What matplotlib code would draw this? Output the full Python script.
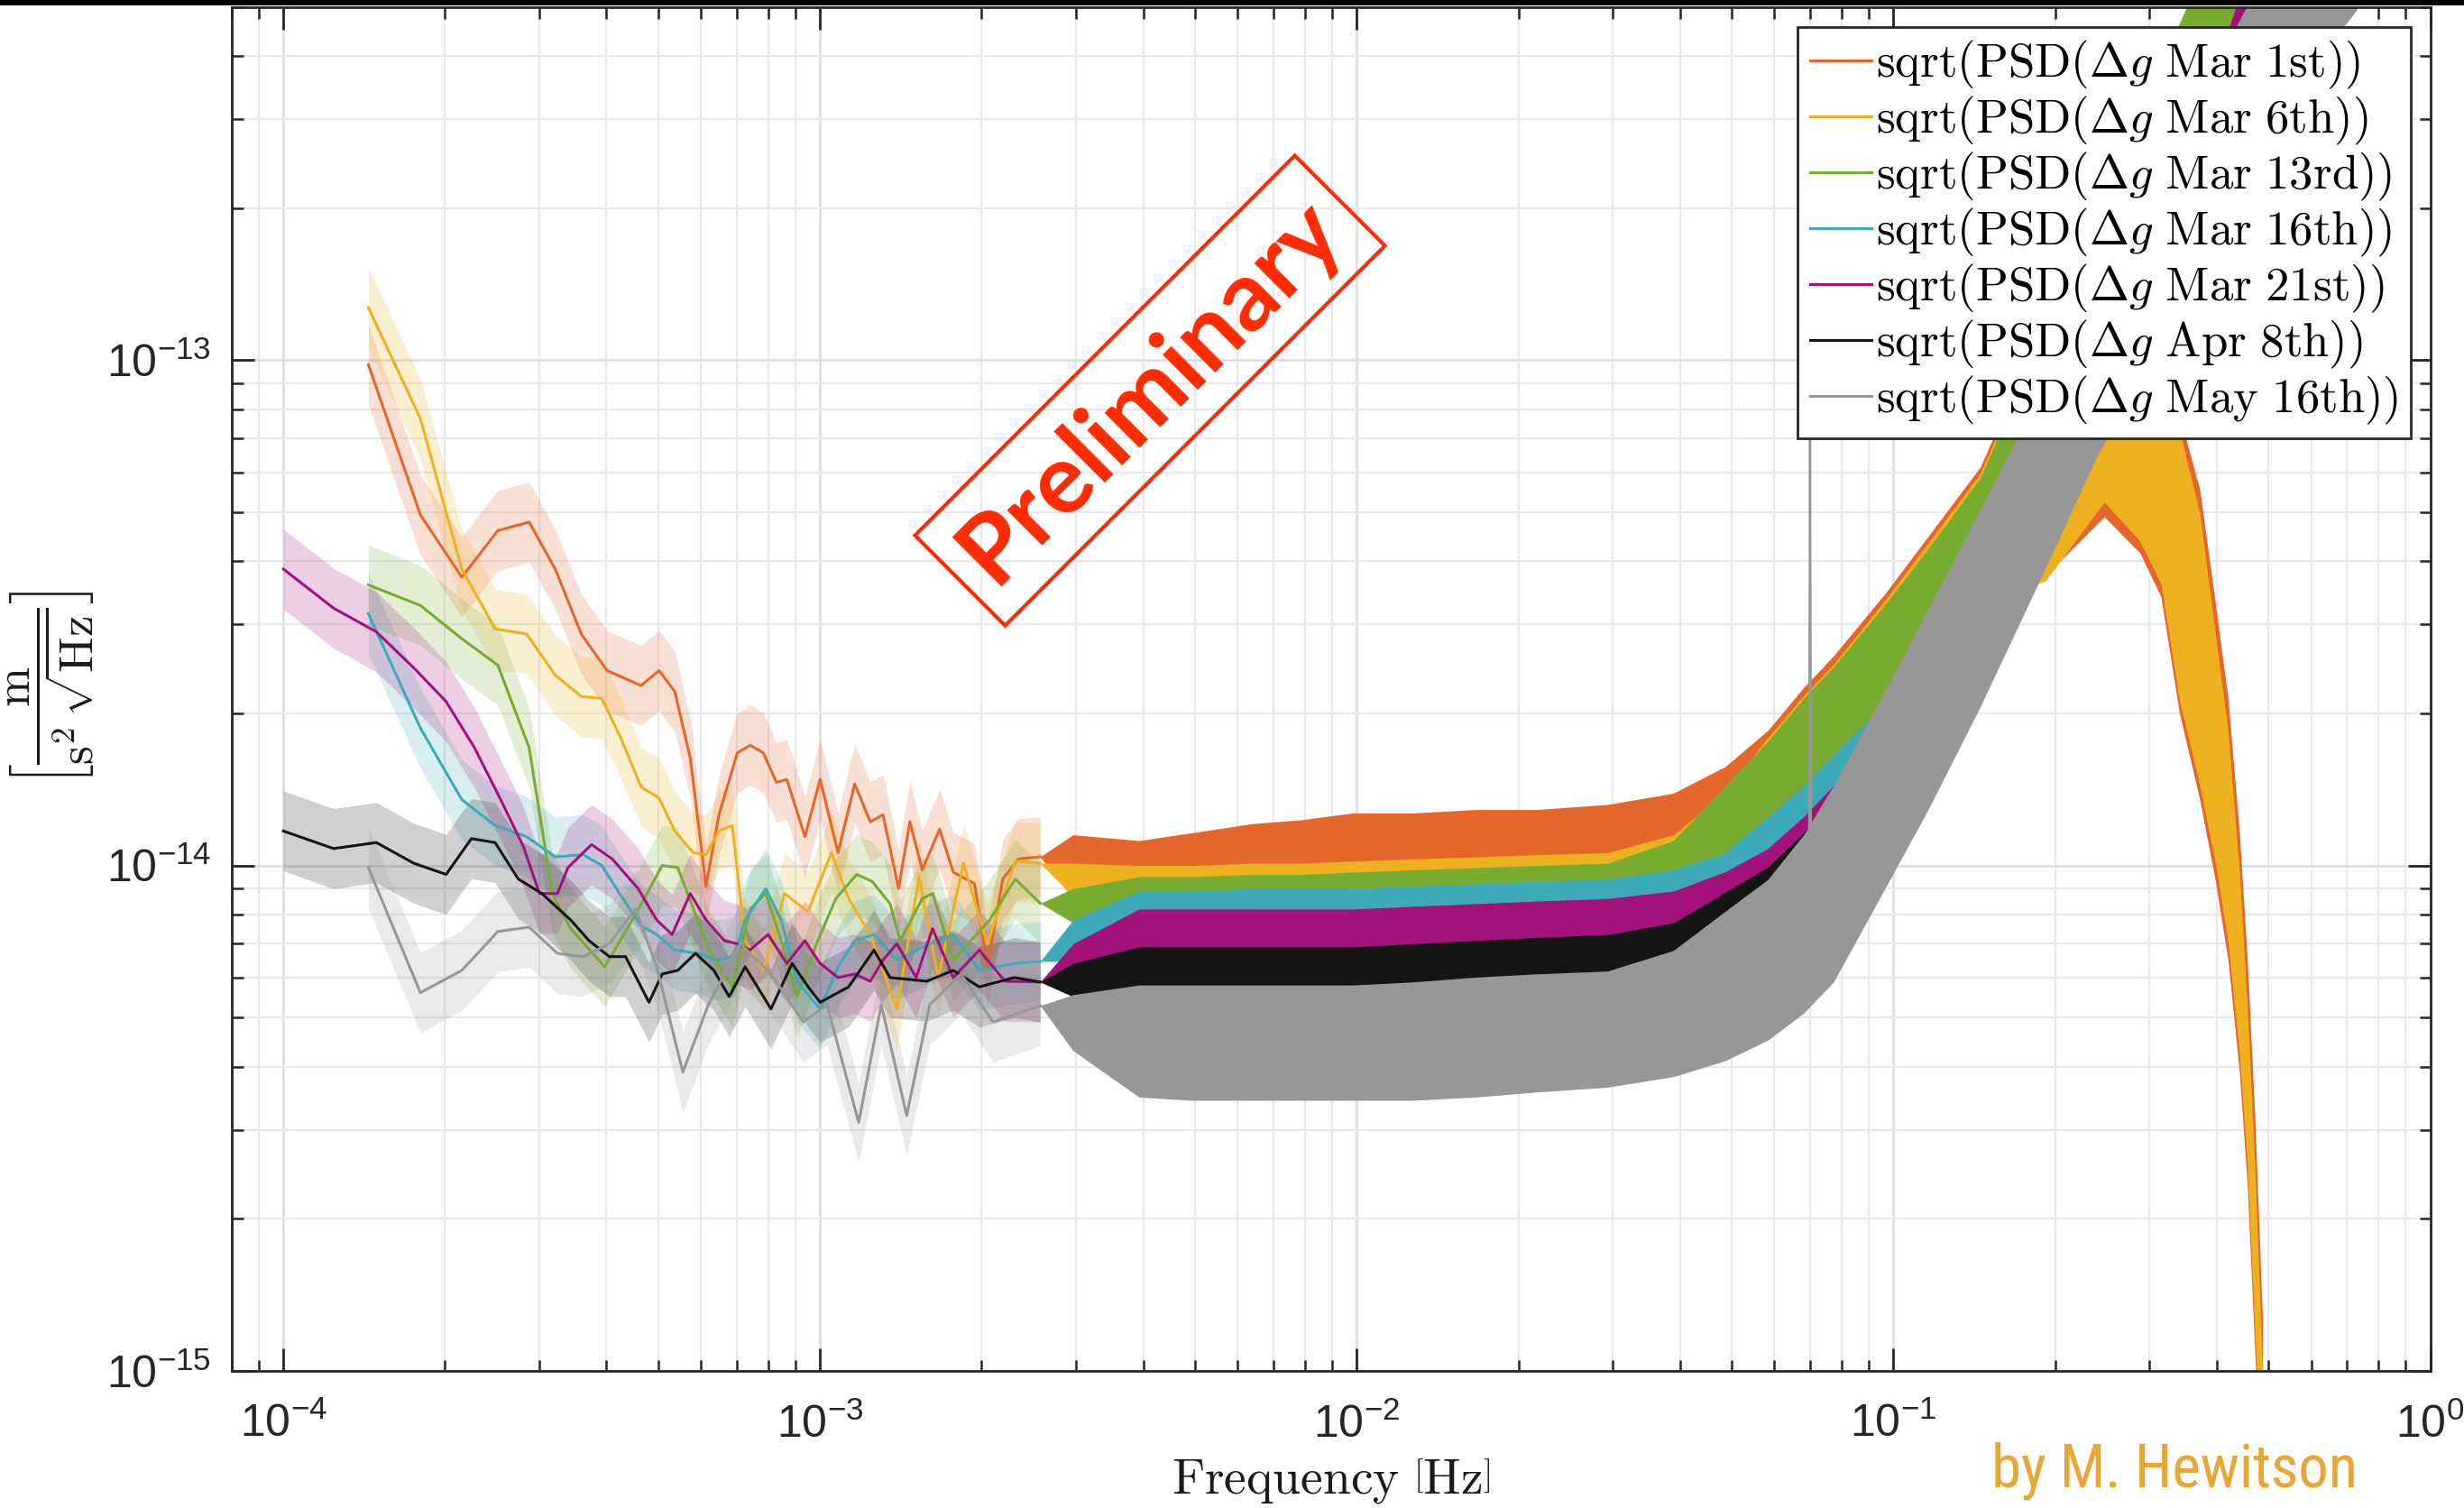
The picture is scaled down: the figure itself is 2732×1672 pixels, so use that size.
import numpy as np
import matplotlib
matplotlib.use("Agg")
import matplotlib.pyplot as plt
from matplotlib.font_manager import FontProperties
from matplotlib.patches import Rectangle
from matplotlib.ticker import LogLocator, NullFormatter

plt.rcParams["font.family"] = ["Liberation Sans", "DejaVu Sans"]
plt.rcParams["mathtext.fontset"] = "custom"
plt.rcParams["mathtext.rm"] = "Liberation Sans"
plt.rcParams["mathtext.it"] = "Liberation Sans:italic"
plt.rcParams["mathtext.bf"] = "Liberation Sans:bold"

# units of 1e-15 m/s^2/sqrt(Hz)
U = 1e-15

labels = ["Mar 1st", "Mar 6th", "Mar 13rd", "Mar 16th", "Mar 21st", "Apr 8th", "May 16th"]
colors = ["#E5662A", "#EDB120", "#77AC30", "#3DAAB8", "#A3127A", "#151515", "#979797"]

# --- low frequency part (averaged, with shaded uncertainty) ---
f_lo_mar01 = [1.44e-4, 1.80e-4, 2.15e-4, 2.51e-4, 2.87e-4, 3.21e-4, 3.59e-4, 4.01e-4, 4.64e-4, 5.01e-4,
              5.36e-4, 5.73e-4, 6.13e-4, 6.48e-4, 7.01e-4, 7.41e-4, 7.84e-4, 8.29e-4, 8.67e-4, 9.37e-4,
              1.00e-3, 1.08e-3, 1.16e-3, 1.24e-3, 1.31e-3, 1.40e-3, 1.47e-3, 1.55e-3, 1.67e-3, 1.77e-3,
              1.94e-3, 2.05e-3, 2.19e-3, 2.34e-3, 2.57e-3]
v_lo_mar01 = [98, 49.4, 37.2, 46.0, 47.8, 38.6, 28.7, 24.3, 22.7, 24.3,
              22.1, 16.3, 9.1, 12.6, 16.7, 17.3, 16.7, 14.6, 14.8, 11.4,
              14.8, 10.6, 14.5, 12.2, 12.6, 9.0, 12.2, 9.8, 11.8, 9.7,
              9.2, 6.3, 9.4, 10.3, 10.4]

f_lo_mar06 = [1.44e-4, 1.80e-4, 2.15e-4, 2.48e-4, 2.84e-4, 3.21e-4, 3.59e-4, 3.92e-4, 4.25e-4, 4.64e-4,
              5.01e-4, 5.36e-4, 5.80e-4, 6.13e-4, 6.48e-4, 6.86e-4, 7.25e-4, 7.84e-4, 8.58e-4, 9.49e-4,
              1.05e-3, 1.13e-3, 1.24e-3, 1.39e-3, 1.53e-3, 1.66e-3, 1.85e-3, 2.05e-3, 2.31e-3, 2.57e-3]
v_lo_mar06 = [127, 76.6, 38.6, 29.4, 28.7, 23.8, 21.6, 21.4, 17.9, 14.3,
              13.6, 11.7, 10.6, 10.5, 11.7, 12.0, 7.1, 6.2, 8.8, 8.1,
              10.6, 8.6, 7.3, 5.2, 9.5, 6.0, 10.1, 7.0, 10.2, 10.1]

f_lo_mar13 = [1.44e-4, 1.80e-4, 2.15e-4, 2.51e-4, 2.87e-4, 3.17e-4, 3.43e-4, 3.97e-4, 4.53e-4, 5.08e-4,
              5.43e-4, 6.21e-4, 6.86e-4, 7.41e-4, 7.92e-4, 8.46e-4, 9.06e-4, 9.90e-4, 1.07e-3, 1.17e-3,
              1.25e-3, 1.35e-3, 1.41e-3, 1.55e-3, 1.62e-3, 1.77e-3, 2.07e-3, 2.31e-3, 2.57e-3]
v_lo_mar13 = [35.9, 32.7, 28.1, 24.9, 17.1, 8.8, 7.5, 6.3, 8.0, 10.0,
              9.9, 6.8, 5.75, 8.2, 8.8, 7.1, 5.5, 7.1, 8.6, 9.6,
              9.3, 8.4, 7.1, 8.6, 8.8, 6.5, 7.8, 9.4, 8.42]

f_lo_mar16 = [1.44e-4, 1.80e-4, 2.15e-4, 2.48e-4, 2.84e-4, 3.21e-4, 3.62e-4, 3.92e-4, 4.29e-4, 4.64e-4,
              4.96e-4, 5.36e-4, 5.93e-4, 6.41e-4, 6.92e-4, 7.25e-4, 7.92e-4, 8.46e-4, 9.06e-4, 1.00e-3,
              1.08e-3, 1.16e-3, 1.26e-3, 1.39e-3, 1.58e-3, 1.77e-3, 1.98e-3, 2.31e-3, 2.57e-3]
v_lo_mar16 = [31.5, 18.7, 13.5, 12.0, 11.4, 10.4, 10.5, 10.0, 8.6, 7.6,
              7.3, 6.8, 6.7, 6.5, 6.6, 7.8, 9.0, 7.8, 5.9, 5.2,
              6.3, 7.1, 7.3, 6.5, 6.95, 7.3, 6.2, 6.4, 6.46]

f_lo_mar21 = [1.00e-4, 1.24e-4, 1.49e-4, 1.75e-4, 2.01e-4, 2.27e-4, 2.54e-4, 2.80e-4, 3.00e-4, 3.24e-4,
              3.39e-4, 3.75e-4, 4.10e-4, 4.58e-4, 4.96e-4, 5.30e-4, 5.73e-4, 6.13e-4, 6.63e-4, 7.00e-4,
              7.40e-4, 8.00e-4, 8.67e-4, 9.37e-4, 1.00e-3, 1.08e-3, 1.16e-3, 1.24e-3, 1.31e-3, 1.39e-3,
              1.51e-3, 1.62e-3, 1.77e-3, 1.98e-3, 2.21e-3, 2.57e-3]
v_lo_mar21 = [38.6, 32.3, 29.0, 24.6, 21.1, 17.1, 13.5, 10.9, 8.8, 8.8,
              9.9, 11.0, 10.3, 9.0, 7.8, 7.3, 8.8, 7.8, 7.1, 7.0,
              6.8, 7.3, 6.4, 7.1, 6.4, 6.0, 6.1, 5.9, 6.5, 7.0,
              6.0, 7.5, 6.0, 6.8, 5.9, 5.88]

f_lo_apr08 = [1.00e-4, 1.24e-4, 1.49e-4, 1.75e-4, 2.01e-4, 2.24e-4, 2.48e-4, 2.74e-4, 3.03e-4, 3.43e-4,
              3.71e-4, 4.05e-4, 4.34e-4, 4.80e-4, 5.08e-4, 5.43e-4, 5.86e-4, 6.34e-4, 6.77e-4, 7.25e-4,
              8.10e-4, 8.87e-4, 9.50e-4, 1.00e-3, 1.13e-3, 1.26e-3, 1.35e-3, 1.58e-3, 1.77e-3, 1.98e-3,
              2.30e-3, 2.57e-3]
v_lo_apr08 = [11.7, 10.8, 11.1, 10.1, 9.6, 11.3, 11.1, 9.4, 8.8, 7.8,
              7.1, 6.6, 6.6, 5.36, 6.1, 6.2, 6.7, 6.2, 5.5, 6.3,
              5.2, 6.4, 5.75, 5.36, 5.75, 6.8, 6.0, 5.9, 6.2, 5.75,
              6.0, 5.88]

f_lo_may16 = [1.44e-4, 1.80e-4, 2.15e-4, 2.51e-4, 2.87e-4, 3.24e-4, 3.62e-4, 4.05e-4, 4.53e-4, 4.96e-4,
              5.55e-4, 6.19e-4, 7.10e-4, 8.10e-4, 9.30e-4, 1.03e-3, 1.18e-3, 1.30e-3, 1.45e-3, 1.60e-3,
              1.83e-3, 2.10e-3, 2.57e-3]
v_lo_may16 = [9.9, 5.6, 6.2, 7.4, 7.55, 6.7, 6.6, 7.0, 8.2, 6.3,
              3.9, 5.3, 7.0, 6.1, 4.9, 5.3, 3.1, 5.3, 3.2, 5.3,
              6.1, 4.9, 5.28]

# --- high frequency part: extent (lower / upper) of the dense spectra ---
f_noise = [2.57e-3, 2.96e-3, 3.93e-3, 4.91e-3, 6.38e-3, 7.81e-3, 9.83e-3, 1.27e-2, 1.66e-2, 2.15e-2,
           2.93e-2, 3.89e-2, 4.86e-2, 5.83e-2, 6.80e-2, 7.73e-2, 9.66e-2, 0.116, 0.145, 0.192,
           0.240, 0.288, 0.336, 0.385, 0.435, 0.481, 0.577, 0.721, 0.859]
f_noise_lp = [2.57e-3, 2.96e-3, 3.93e-3, 4.91e-3, 6.38e-3, 7.81e-3, 9.83e-3, 1.27e-2, 1.66e-2, 2.15e-2,
              2.93e-2, 3.89e-2, 4.86e-2, 5.83e-2, 6.80e-2, 7.73e-2, 9.66e-2, 0.116, 0.145, 0.192,
              0.247, 0.288, 0.315, 0.341, 0.372, 0.398, 0.420, 0.441, 0.456, 0.471, 0.487]

hi_mar01 = [10.4, 11.5, 11.2, 11.6, 12.1, 12.3, 12.7, 12.7, 12.9, 12.9, 13.2, 13.9, 15.7, 18.5, 22.5, 26.0,
            34.6, 44.8, 61.4, 120, 178, 165, 124, 77.8, 55.5, 32.9, 21.4, 11.6, 6.55, 3.20, 1.26]
lo_mar01 = [10.4, 8.6, 7.29, 7.29, 7.29, 7.29, 7.45, 7.56, 7.56, 7.67, 7.83, 8.12, 8.72, 9.93, 11.8, 13.6,
            18.1, 23.5, 32.9, 37.5, 49.0, 41.5, 34.0, 20.0, 13.5, 9.3, 6.5, 3.9, 2.35, 1.10, 0.52]
hi_mar06 = [10.1, 10.1, 10.0, 10.0, 10.1, 10.1, 10.2, 10.3, 10.4, 10.5, 10.6, 11.5, 14.0, 17.9, 21.7, 25.0,
            33.6, 43.5, 59.7, 117, 165, 159, 120, 72.4, 49.9, 28.5, 18.5, 9.72, 5.28, 2.58, 1.00]
lo_mar06 = [10.1, 8.7, 7.45, 7.45, 7.45, 7.45, 7.56, 7.56, 7.67, 7.78, 7.89, 8.24, 8.85, 10.1, 12.0, 13.9,
            18.5, 23.8, 32.9, 36.6, 52.4, 43.8, 36.1, 21.2, 14.4, 10.1, 7.04, 4.26, 2.58, 1.21, 0.57]
hi_mar13 = [8.42, 9.0, 9.5, 9.5, 9.6, 9.6, 9.7, 9.8, 9.9, 10.0, 10.1, 11.2, 14.4, 17.6, 21.4, 24.7,
            32.9, 42.3, 58.4, 115, 198, 306, 448, 623, 830, 1067, 1641, 2809, 4321]
lo_mar13 = [8.42, 7.7, 6.94, 6.94, 7.04, 7.04, 7.04, 7.14, 7.24, 7.29, 7.45, 7.67, 8.24, 9.24, 10.8, 12.5,
            17.2, 22.2, 35.3, 69.9, 111, 165, 254, 339, 420, 502, 694, 1146, 1641]
hi_mar16 = [6.46, 7.8, 8.9, 8.9, 9.0, 9.0, 9.0, 9.1, 9.2, 9.3, 9.4, 9.8, 10.6, 12.5, 14.4, 16.6,
            20.9, 29.5, 45.4, 83.6, 131, 191, 260, 339, 435, 532, 773, 1214, 1726]
lo_mar16 = [6.46, 6.46, 6.46, 6.46, 6.46, 6.55, 6.55, 6.64, 6.74, 6.89, 7.04, 7.14, 7.29, 7.56, 8.12, 9.04,
            9.72, 13.4, 21.4, 40.2, 67.4, 93.1, 129, 171, 220, 273, 377, 502, 669]
hi_mar21 = [5.88, 7.0, 8.2, 8.2, 8.2, 8.2, 8.2, 8.3, 8.4, 8.5, 8.6, 8.9, 9.72, 10.8, 12.5, 14.4,
            19.9, 29.5, 47.1, 86.6, 135, 195, 265, 346, 502, 623, 789, 1231, 1750]
lo_mar21 = [5.88, 5.95, 6.10, 6.10, 6.10, 6.10, 6.18, 6.27, 6.36, 6.46, 6.55, 6.79, 7.04, 7.29, 7.83, 8.42,
            9.51, 13.4, 21.4, 40.2, 67.4, 93.1, 129, 171, 220, 273, 377, 502, 669]
hi_apr08 = [5.88, 6.4, 6.9, 6.9, 6.9, 6.9, 6.9, 7.0, 7.1, 7.2, 7.3, 7.7, 8.85, 9.93, 11.6, 13.9,
            20.6, 30.6, 48.8, 88.5, 138, 198, 269, 351, 451, 551, 789, 1231, 1750]
lo_apr08 = [5.88, 5.5, 5.20, 5.20, 5.20, 5.28, 5.28, 5.36, 5.43, 5.51, 5.67, 5.88, 6.32, 6.79, 7.29, 7.83,
            9.38, 13.4, 21.4, 40.2, 67.4, 93.1, 129, 171, 220, 273, 377, 502, 669]
hi_may16 = [5.28, 5.55, 5.8, 5.8, 5.8, 5.8, 5.8, 5.88, 6.01, 6.10, 6.18, 6.79, 8.12, 9.38, 11.5, 14.4,
            22.2, 32.2, 50.6, 90.5, 140, 202, 275, 358, 458, 559, 801, 1249, 1775]
lo_may16 = [5.28, 4.3, 3.48, 3.43, 3.43, 3.43, 3.43, 3.43, 3.48, 3.56, 3.64, 3.82, 4.11, 4.51, 5.10, 5.88,
            9.04, 12.9, 20.6, 38.8, 65.0, 89.8, 124, 165, 212, 263, 364, 485, 646]

# narrow line in the May 16th spectrum
f_spike_may16 = [0.0696, 0.0699, 0.0702]
v_spike_may16 = [9.0, 70, 9.0]

series = [
    (f_lo_mar01, v_lo_mar01, f_noise_lp, lo_mar01, hi_mar01),
    (f_lo_mar06, v_lo_mar06, f_noise_lp, lo_mar06, hi_mar06),
    (f_lo_mar13, v_lo_mar13, f_noise, lo_mar13, hi_mar13),
    (f_lo_mar16, v_lo_mar16, f_noise, lo_mar16, hi_mar16),
    (f_lo_mar21, v_lo_mar21, f_noise, lo_mar21, hi_mar21),
    (f_lo_apr08, v_lo_apr08, f_noise, lo_apr08, hi_apr08),
    (f_lo_may16, v_lo_may16, f_noise, lo_may16, hi_may16),
]

fig = plt.figure(figsize=(13.66, 8.36), dpi=200)
ax = fig.add_axes([0.0939, 0.0910, 0.8924, 0.9044])

band = 1.2
handles = []
for (fl, vl, fn, nlo, nhi), lab, c in zip(series, labels, colors):
    fl = np.array(fl)
    vl = np.array(vl) * U
    ax.fill_between(fl, vl / band, vl * band, color=c, alpha=0.2, lw=0)
    ln, = ax.plot(fl, vl, color=c, lw=1.1)
    ax.fill_between(fn, np.array(nlo) * U, np.array(nhi) * U, color=c, lw=0)
    handles.append(ln)
    if lab == "May 16th":
        ax.plot(f_spike_may16, np.array(v_spike_may16) * U, color=c, lw=0.9)

ax.set_xscale("log")
ax.set_yscale("log")
ax.set_xlim(8e-5, 1)
ax.set_ylim(1e-15, 5e-13)

ax.xaxis.set_major_locator(LogLocator(base=10, numticks=10))
ax.yaxis.set_major_locator(LogLocator(base=10, numticks=10))
ax.xaxis.set_minor_locator(LogLocator(base=10, subs=np.arange(2, 10), numticks=40))
ax.yaxis.set_minor_locator(LogLocator(base=10, subs=np.arange(2, 10), numticks=40))
ax.xaxis.set_minor_formatter(NullFormatter())
ax.yaxis.set_minor_formatter(NullFormatter())

ax.set_axisbelow(True)
ax.grid(True, which="major", color="#DCDCDC", lw=0.9)
ax.grid(True, which="minor", color="#E8E8E8", lw=0.8)
ax.tick_params(which="both", direction="in", top=True, right=True, colors="#262626",
               labelsize=18)
ax.tick_params(axis="x", which="both", pad=13)
ax.tick_params(axis="y", which="both", pad=8)
ax.tick_params(which="major", length=9, width=1.0)
ax.tick_params(which="minor", length=4.5, width=0.9)
for s in ax.spines.values():
    s.set_linewidth(1.0)
    s.set_color("#262626")

ax.set_xlabel(r"$\mathrm{Frequency}\ \left[\mathrm{Hz}\right]$", fontsize=20,
              math_fontfamily="cm", color="#1A1A1A", labelpad=4)
ax.set_ylabel(r"$\left[\dfrac{\mathrm{m}}{\mathrm{s}^2\,\sqrt{\mathrm{Hz}}}\right]$", fontsize=19,
              math_fontfamily="cm", color="#1A1A1A", labelpad=4)

leg_labels = [r"$\mathrm{sqrt(PSD(}\Delta g\ \mathrm{%s))}$" % l.replace(" ", r"\ ") for l in labels]
leg = ax.legend(handles, leg_labels, loc="upper right", bbox_to_anchor=(0.9911, 0.9855),
                borderaxespad=0, prop=FontProperties(size=19.0, math_fontfamily="cm"),
                handlelength=1.3, handletextpad=0.1, labelspacing=0.075, borderpad=0.25,
                fancybox=False, framealpha=1, edgecolor="#262626")
leg.get_frame().set_linewidth(1.0)

fig.text(0.4667, 0.7410, "Preliminary", rotation=45, rotation_mode="anchor",
         ha="center", va="center", fontsize=39, fontweight="bold",
         family=["Lato", "DejaVu Sans"], color="#FF2A00",
         bbox=dict(boxstyle="square,pad=0.2", fc="none", ec="#FF2A00", lw=1.5))

fig.text(0.9567, 0.014, "by M. Hewitson", ha="right", va="baseline", fontsize=24,
         color="#E8A634",
         family=["Liberation Sans Narrow", "Roboto Condensed", "Liberation Sans"])

fig.add_artist(Rectangle((0, 1 - 6 / 1672), 1, 6 / 1672, transform=fig.transFigure,
                         facecolor="black", edgecolor="none"))

fig.savefig("out.png", dpi=200)
